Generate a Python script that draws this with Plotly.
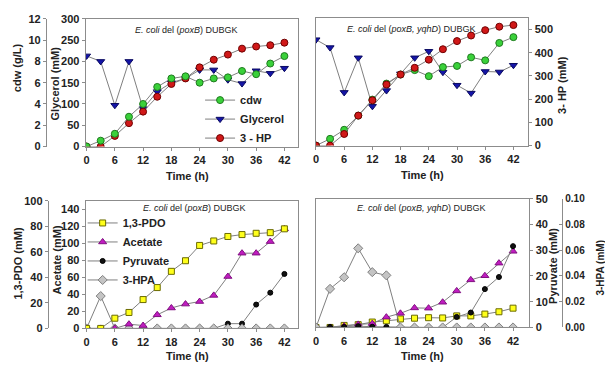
import plotly.graph_objects as go

W, H = 613, 369
t = [0, 3, 6, 9, 12, 15, 18, 21, 24, 27, 30, 33, 36, 39, 42]
x_ticks = [0, 6, 12, 18, 24, 30, 36, 42]

# Top-left: E. coli del (poxB) DUBGK
tl_cdw = [0, 0.55, 1.2, 2.8, 4.0, 5.6, 6.4, 6.6, 6.0, 6.4, 6.5, 7.1, 6.8, 7.8, 8.5]
tl_glycerol = [213, 200, 97, 200, 89, 129, 150, 160, 180, 180, 157, 148, 178, 172, 184]
tl_3hp = [0, 0, 25, 55, 82, 117, 147, 160, 186, 204, 216, 230, 235, 238, 244]

# Top-right: E. coli del (poxB, yqhD) DUBGK  (on 3-HP scale)
tr_cdw = [0, 29, 68, 129, 198, 267, 306, 325, 299, 338, 343, 380, 367, 442, 467]
tr_glycerol = [456, 422, 229, 378, 169, 237, 309, 378, 406, 316, 260, 226, 319, 317, 346]
tr_3hp = [0, 0, 50, 129, 195, 263, 306, 335, 370, 415, 450, 474, 497, 512, 519]

# Bottom-left: E. coli del (poxB) DUBGK
bl_pdo = [0, 0, 8, 12.5, 22.6, 32, 44.7, 53, 65, 68.5, 72, 73.5, 74.5, 75, 78]
bl_acetate = [0, 0, 0, 5, 3.4, 16, 24, 28.6, 31.6, 38.8, 61, 88.4, 88.4, 102, 117]
bl_pyruvate = [0, 0, 0, 0, 0, 0, 0, 0, 0, 0, 5.6, 5.6, 28, 42, 64]
bl_3hpa = [0, 38, 0, 0, 0, 0, 0, 0, 0, 0, 0, 0, 0, 0, 0]

# Bottom-right: E. coli del (poxB, yqhD) DUBGK
br_pdo = [0, 0, 0.8, 1.1, 2.1, 2.6, 3.3, 3.6, 3.8, 3.7, 4.5, 4.5, 5.2, 6.1, 7.5]
br_acetate = [0, 0, 0.5, 1.2, 1.5, 4.0, 5.5, 7.6, 7.5, 9.8, 14.2, 18.5, 20.1, 25, 29.6]
br_pyruvate = [0, 0.2, 0.2, 0.5, 0.3, 0.2, 0, 0, 0, 0, 4.1, 5.8, 14.9, 19.6, 31.6]
br_3hpa = [0, 0.030, 0.039, 0.0615, 0.043, 0.0405, 0, 0, 0, 0, 0, 0, 0, 0, 0]

FONT = "Liberation Sans, Arial, sans-serif"
LINE = "#7f7f7f"
AX = "#8c8c8c"
TXT = "#222222"

# the page body adds an 8 px margin; positions below are given in screen pixels
OFF = 8

def px(v):
    return (v - OFF) / W

def py(v):
    return 1 - (v - OFF) / H

fig = go.Figure()

def add(x, y, xa, ya, name, symbol, color, outline, size, legend="legend", show=False, rank=None):
    fig.add_trace(go.Scatter(
        x=x, y=y, xaxis=xa, yaxis=ya, name=name, mode="lines+markers",
        line=dict(color=LINE, width=1),
        marker=dict(symbol=symbol, color=color, size=size,
                    line=dict(color=outline, width=1)),
        showlegend=show, legend=legend,
        legendrank=rank if rank is not None else 1000,
    ))

GREEN, GREEN_O = "#3ad13a", "#1f7a1f"
BLUE, BLUE_O = "#1414a8", "#0a0a60"
RED, RED_O = "#d01818", "#700000"
YEL, YEL_O = "#ffff1a", "#6b6b00"
MAG, MAG_O = "#c01cc0", "#801080"
BLK, BLK_O = "#111111", "#000000"
GRY, GRY_O = "#c4c4c4", "#808080"

# Top-left
add(t, tl_glycerol, "x", "y", "Glycerol", "triangle-down", BLUE, BLUE_O, 7, show=True, rank=2)
add(t, tl_3hp, "x", "y", "3 - HP", "circle", RED, RED_O, 7, show=True, rank=3)
add(t, tl_cdw, "x", "y2", "cdw", "circle", GREEN, GREEN_O, 7, show=True, rank=1)

# Top-right
add(t, tr_glycerol, "x2", "y3", "Glycerol", "triangle-down", BLUE, BLUE_O, 7)
add(t, tr_cdw, "x2", "y3", "cdw", "circle", GREEN, GREEN_O, 7)
add(t, tr_3hp, "x2", "y3", "3 - HP", "circle", RED, RED_O, 7)

# Bottom-left
add(t, bl_pyruvate, "x3", "y4", "Pyruvate", "circle", BLK, BLK_O, 5, "legend2", True, 3)
add(t, bl_3hpa, "x3", "y4", "3-HPA", "diamond", GRY, GRY_O, 7, "legend2", True, 4)
add(t, bl_acetate, "x3", "y4", "Acetate", "triangle-up", MAG, MAG_O, 7, "legend2", True, 2)
add(t, bl_pdo, "x3", "y5", "1,3-PDO", "square", YEL, YEL_O, 6, "legend2", True, 1)

# Bottom-right
add(t, br_3hpa, "x4", "y7", "3-HPA", "diamond", GRY, GRY_O, 7)
add(t, br_pdo, "x4", "y6", "1,3-PDO", "square", YEL, YEL_O, 6)
add(t, br_acetate, "x4", "y6", "Acetate", "triangle-up", MAG, MAG_O, 7)
add(t, br_pyruvate, "x4", "y6", "Pyruvate", "circle", BLK, BLK_O, 5)

tickfont = dict(family=FONT, size=11, color=TXT, weight="bold")

def xax(dom, anchor, rng):
    return dict(domain=dom, anchor=anchor, range=rng, tickvals=x_ticks,
                showline=True, linecolor=AX, linewidth=1, mirror=True,
                ticks="outside", ticklen=3, tickcolor=AX, tickfont=tickfont,
                showgrid=False, zeroline=False)

def yax(rng, dtick, **kw):
    d = dict(range=rng, dtick=dtick, tick0=0, showline=True, linecolor=AX,
             linewidth=1, ticks="outside", ticklen=3, tickcolor=AX,
             tickfont=tickfont, showgrid=False, zeroline=False)
    d.update(kw)
    return d

TLx = [px(83), px(296)]
TRx = [px(314), px(528)]
BLx = [px(83), px(296)]
BRx = [px(314), px(529)]
TLy = [py(145), py(13)]
TRy = [py(144), py(12)]
BLy = [py(333), py(201)]
BRy = [py(332), py(199)]

legfont = dict(family=FONT, size=11, color=TXT, weight="bold")

fig.update_layout(
    width=W, height=H, margin=dict(l=0, r=0, t=0, b=0),
    paper_bgcolor="white", plot_bgcolor="white",
    font=dict(family=FONT, color=TXT),
    xaxis=xax(TLx, "y", [-0.2, 44.8]),
    xaxis2=xax(TRx, "y3", [-0.1, 45.2]),
    xaxis3=xax(BLx, "y4", [-0.2, 44.8]),
    xaxis4=xax(BRx, "y6", [-0.1, 45.5]),
    yaxis=yax([0, 300], 50, domain=TLy, anchor="x", mirror=True),
    yaxis2=yax([0, 12], 2, overlaying="y", anchor="free", position=px(43), side="left"),
    yaxis3=yax([0, 550], 100, domain=TRy, anchor="x2", side="right", mirror=True,
               tickvals=[0, 100, 200, 300, 400, 500]),
    yaxis4=yax([0, 150], 20, domain=BLy, anchor="x3", mirror=True,
               tickvals=[0, 20, 40, 60, 80, 100, 120, 140]),
    yaxis5=yax([0, 100], 20, overlaying="y4", anchor="free", position=px(45), side="left"),
    yaxis6=yax([0, 50], 10, domain=BRy, anchor="x4", side="right", mirror=True),
    yaxis7=yax([0, 0.10], 0.02, overlaying="y6", anchor="free", position=px(562),
               side="right", tickformat=".2f", ticks="inside",
               tickfont=dict(family=FONT, size=10, color=TXT, weight="bold")),
    legend=dict(x=px(198), y=py(82), xanchor="left", yanchor="top",
                bgcolor="rgba(0,0,0,0)", font=legfont,
                traceorder="normal", itemwidth=30),
    legend2=dict(x=px(80), y=py(209), xanchor="left", yanchor="top",
                 bgcolor="rgba(0,0,0,0)", font=legfont,
                 traceorder="normal", itemwidth=30),
)

ann = []
def a(text, x, y, size=11, angle=0, bold=True):
    ann.append(dict(text=text, x=px(x), y=py(y), xref="paper", yref="paper",
                    showarrow=False, textangle=angle, xanchor="center", yanchor="middle",
                    borderpad=0,
                    font=dict(family=FONT, size=size, color=TXT,
                              weight="bold" if bold else "normal")))

a("<i>E. coli</i> del (<i>poxB</i>) DUBGK", 184, 25, 9, bold=False)
a("<i>E. coli</i> del (<i>poxB, yqhD</i>) DUBGK", 410, 24, 9, bold=False)
a("<i>E. coli</i> del (<i>poxB</i>) DUBGK", 192, 209, 9, bold=False)
a("<i>E. coli</i> del (<i>poxB, yqhD</i>) DUBGK", 421, 209, 9, bold=False)
a("Time (h)", 185, 175)
a("Time (h)", 422, 174)
a("Time (h)", 185, 362)
a("Time (h)", 422, 361)
a("cdw (g/L)", 14, 63, angle=-90)
a("Glycerol (mM)", 52, 80, angle=-90)
a("3- HP (mM)", 561, 81, angle=-90)
a("1,3-PDO (mM)", 15, 266, angle=-90)
a("Acetate (mM)", 54, 262, angle=-90)
a("Pyruvate (mM)", 552, 268, angle=-90)
a("3-HPA (mM)", 600, 270, 10, angle=-90)
fig.update_layout(annotations=ann)

fig.write_html("out.html")
